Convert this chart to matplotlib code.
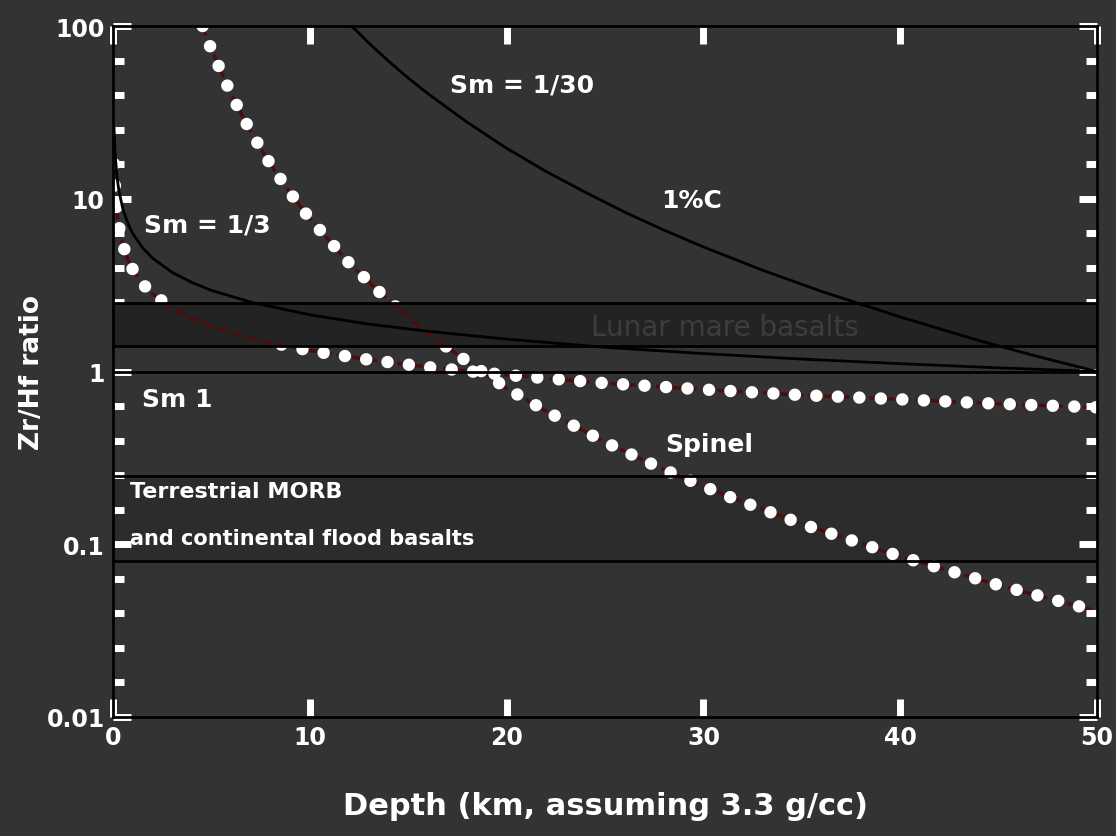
import matplotlib
matplotlib.use("Agg")
import matplotlib.pyplot as plt
from matplotlib.ticker import FixedLocator, FixedFormatter, NullLocator
from matplotlib.patches import Rectangle
import numpy as np

# ---------------- data ----------------
# solid black curve, steep family (upper right)
c1_x = [12.1, 13, 14, 15, 16, 18, 20, 22, 24, 26, 28, 30, 33, 36, 40, 44, 47, 50]
c1_y = [100.6, 79.7, 62.6, 50.0, 40.6, 27.7, 19.6, 14.4, 10.9, 8.37, 6.58, 5.26,
        3.86, 2.91, 2.07, 1.51, 1.22, 1.0]
# solid black curve, shallow family (from top-left)
c2_x = [0.05, 0.1, 0.2, 0.3, 0.5, 0.75, 1, 1.5, 2, 3, 4, 5, 7, 10, 13, 16, 20, 25,
        30, 35, 40, 45, 50]
c2_y = [25.7, 18.6, 13.4, 11.1, 8.71, 7.2, 6.29, 5.2, 4.54, 3.75, 3.28, 2.95, 2.52,
        2.13, 1.88, 1.71, 1.54, 1.38, 1.27, 1.18, 1.11, 1.05, 1.0]
# dashed red curve A (steep)
da_x = [4.55, 4.6, 5, 6, 7, 8, 9, 10, 12, 14, 16, 18, 20, 22, 25, 28, 31, 35, 40, 45, 50]
da_y = [100, 95.6, 72.9, 40.3, 24.4, 15.8, 10.8, 7.67, 4.24, 2.57, 1.66, 1.14, 0.80,
        0.59, 0.39, 0.27, 0.194, 0.131, 0.085, 0.058, 0.041]
# dashed red curve B (shallow)
db_x = [0.05, 0.1, 0.2, 0.3, 0.5, 0.75, 1, 1.5, 2, 3, 4, 5, 7, 10, 13, 16, 20, 25,
        30, 35, 40, 45, 50]
db_y = [15.9, 11.5, 8.3, 6.9, 5.4, 4.46, 3.9, 3.22, 2.81, 2.33, 2.03, 1.83, 1.56,
        1.32, 1.17, 1.06, 0.955, 0.856, 0.787, 0.73, 0.69, 0.65, 0.62]

lunar_band = (1.4, 2.5)
terr_band = (0.08, 0.25)
ref_level = 1.0

x_ticks = [0, 10, 20, 30, 40, 50]
x_ticklabels = ["0", "10", "20", "30", "40", "50"]
y_ticks = [0.01, 0.1, 1, 10, 100]
y_ticklabels = ["0.01", "0.1", "1", "10", "100"]

xlabel = "Depth (km, assuming 3.3 g/cc)"
ylabel = "Zr/Hf ratio"

# ---------------- figure ----------------
BG = "#333333"
fig = plt.figure(figsize=(11.16, 8.37), dpi=100, facecolor=BG)
ax = fig.add_axes([0.1013, 0.1422, 0.8817, 0.8255])
ax.set_facecolor(BG)
ax.set_yscale("log")
ax.set_xlim(0, 50)
ax.set_ylim(0.01, 100)

# bands
ax.axhspan(*lunar_band, facecolor="#232323", edgecolor="none", zorder=2)
ax.axhspan(*terr_band, facecolor="#2c2c2c", edgecolor="none", zorder=0.5)
for v in list(lunar_band) + list(terr_band) + [ref_level]:
    ax.axhline(v, color="black", lw=2, zorder=2.6)

ax.text(31.07, 1.82, "Lunar mare basalts", ha="center", va="center",
        color="#3d3d3d", fontsize=20, zorder=2.7)

RED = "#4d0d0d"
for xs, ys in [(da_x, da_y), (db_x, db_y)]:
    # dashed red curve (under the white dots)
    ax.plot(xs, ys, color=RED, lw=2.5, linestyle=(0, (2.9, 1.5)), zorder=1.4)
    # white dotted overlay
    ax.plot(xs, ys, color="white", lw=9, linestyle=(0, (0.001, 1.72)),
            dash_capstyle="round", solid_capstyle="round", zorder=1.5)
    # red dashes shown through the opaque lunar band
    ln, = ax.plot(xs, ys, color=RED, lw=2.5, linestyle=(0, (2.9, 1.5)), zorder=2.1)
    clip = Rectangle((0, lunar_band[0]), 50, lunar_band[1] - lunar_band[0],
                     transform=ax.transData)
    ln.set_clip_path(clip)

# solid black curves
ax.plot(c1_x, c1_y, color="black", lw=2, zorder=3)
ax.plot(c2_x, c2_y, color="black", lw=2, zorder=3)

# annotations
tkw = dict(color="white", fontsize=18, fontweight="bold", ha="center", va="center",
           zorder=4)
ax.text(20.8, 45.8, "Sm = 1/30", **tkw)
ax.text(29.4, 9.9, "1%C", **tkw)
ax.text(4.77, 7.1, "Sm = 1/3", **tkw)
ax.text(3.25, 0.689, "Sm 1", **tkw)
ax.text(30.3, 0.378, "Spinel", **tkw)
ax.text(0.86, 0.202, "Terrestrial MORB", color="white", fontsize=16,
        fontweight="bold", ha="left", va="center", zorder=4)
ax.text(0.86, 0.109, "and continental flood basalts", color="white", fontsize=15,
        fontweight="bold", ha="left", va="center", zorder=4)

# axes styling
for s in ax.spines.values():
    s.set_color("black")
    s.set_linewidth(2)
    s.set_zorder(5)

ax.xaxis.set_major_locator(FixedLocator(x_ticks))
ax.xaxis.set_major_formatter(FixedFormatter(x_ticklabels))
ax.xaxis.set_minor_locator(NullLocator())
ax.yaxis.set_major_locator(FixedLocator(y_ticks))
ax.yaxis.set_major_formatter(FixedFormatter(y_ticklabels))
minor_pos = [10 ** e for e in np.arange(-2, 2.001, 0.2)]
ax.yaxis.set_minor_locator(FixedLocator(minor_pos))
ax.yaxis.set_minor_formatter(FixedFormatter([""] * len(minor_pos)))

ax.tick_params(which="both", direction="in", top=True, right=True,
               colors="white", labelcolor="white")
ax.tick_params(which="major", length=13, width=5, labelsize=17, pad=6)
ax.tick_params(which="minor", length=8, width=5)
for lab in ax.get_xticklabels() + ax.get_yticklabels():
    lab.set_fontweight("bold")

ax.set_xlabel(xlabel, color="white", fontsize=22, fontweight="bold", labelpad=30)
ax.set_ylabel(ylabel, color="white", fontsize=19, fontweight="bold", labelpad=1)

fig.savefig("out.png", dpi=100, facecolor=BG)
